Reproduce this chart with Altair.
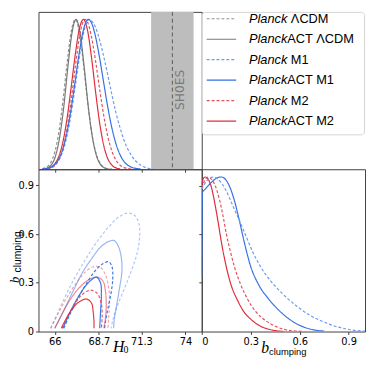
import altair as alt
import pandas as pd

# ---------------- data ----------------
# 1D marginal of H0, peak-normalised
h0_lcdm_planck = [65.25, 65.5, 65.75, 66.0, 66.25, 66.5, 66.75, 67.0, 67.25, 67.5, 67.75, 68.0, 68.25, 68.5, 68.75, 69.0, 69.25, 69.5]
p_lcdm_planck = [0.004, 0.014, 0.044, 0.115, 0.249, 0.458, 0.707, 0.916, 1.0, 0.916, 0.707, 0.458, 0.249, 0.115, 0.044, 0.014, 0.004, 0.001]

h0_lcdm_act = [65.3, 65.55, 65.8, 66.05, 66.3, 66.55, 66.8, 67.05, 67.3, 67.55, 67.8, 68.05, 68.3, 68.55, 68.8, 69.05, 69.3]
p_lcdm_act = [0.002, 0.009, 0.031, 0.091, 0.216, 0.418, 0.681, 0.908, 1.0, 0.908, 0.681, 0.418, 0.216, 0.091, 0.031, 0.009, 0.002]

h0_m1_planck = [65.25, 65.5, 65.75, 66.0, 66.25, 66.5, 66.75, 67.0, 67.25, 67.5, 67.75, 68.1, 68.25, 68.5, 68.75, 69.0, 69.25, 69.5, 69.75, 70.0, 70.25, 70.5, 70.75, 71.0, 71.25, 71.5, 71.75, 72.0]
p_m1_planck = [0.001, 0.004, 0.011, 0.027, 0.06, 0.122, 0.225, 0.37, 0.553, 0.744, 0.904, 1.0, 0.99, 0.945, 0.86, 0.75, 0.625, 0.495, 0.375, 0.275, 0.19, 0.128, 0.083, 0.05, 0.028, 0.014, 0.006, 0.002]

h0_m1_act = [65.25, 65.5, 65.75, 66.0, 66.25, 66.5, 66.75, 67.0, 67.25, 67.5, 67.75, 68.05, 68.25, 68.5, 68.75, 69.0, 69.25, 69.5, 69.75, 70.0, 70.25, 70.5, 70.75, 71.0, 71.25]
p_m1_act = [0.002, 0.005, 0.013, 0.031, 0.069, 0.138, 0.249, 0.404, 0.591, 0.78, 0.929, 1.0, 0.976, 0.882, 0.739, 0.573, 0.411, 0.273, 0.168, 0.096, 0.05, 0.025, 0.011, 0.005, 0.002]

h0_m2_planck = [65.25, 65.5, 65.75, 66.0, 66.25, 66.5, 66.75, 67.0, 67.25, 67.5, 67.75, 67.85, 68.0, 68.25, 68.5, 68.75, 69.0, 69.25, 69.5, 69.75, 70.0, 70.25, 70.5, 70.75]
p_m2_planck = [0.001, 0.003, 0.008, 0.025, 0.063, 0.138, 0.27, 0.458, 0.679, 0.876, 0.989, 1.0, 0.983, 0.882, 0.719, 0.531, 0.356, 0.216, 0.12, 0.06, 0.027, 0.011, 0.004, 0.001]

h0_m2_act = [65.25, 65.5, 65.75, 66.0, 66.25, 66.5, 66.75, 67.0, 67.25, 67.5, 67.75, 68.0, 68.25, 68.5, 68.75, 69.0, 69.25, 69.5, 69.75, 70.0]
p_m2_act = [0.001, 0.004, 0.013, 0.037, 0.087, 0.184, 0.339, 0.546, 0.763, 0.935, 1.0, 0.929, 0.744, 0.514, 0.306, 0.157, 0.069, 0.027, 0.009, 0.002]

# 1D marginal of b_clumping, peak-normalised
b_m1_planck = [0, 0.03, 0.07, 0.1, 0.14, 0.177, 0.2, 0.23, 0.27, 0.31, 0.36, 0.42, 0.48, 0.53, 0.6, 0.67, 0.74, 0.8, 0.88, 0.95, 1.0]
pb_m1_planck = [0.92, 0.975, 1.0, 0.985, 0.93, 0.847, 0.79, 0.72, 0.62, 0.52, 0.42, 0.33, 0.26, 0.21, 0.15, 0.1, 0.065, 0.04, 0.018, 0.006, 0.003]

b_m1_act = [0, 0.004, 0.02, 0.05, 0.08, 0.1, 0.12, 0.14, 0.17, 0.2, 0.23, 0.26, 0.3, 0.35, 0.41, 0.47, 0.53, 0.6, 0.68, 0.75]
pb_m1_act = [0.36, 0.9, 0.92, 0.955, 0.985, 0.997, 1.0, 0.99, 0.94, 0.847, 0.72, 0.58, 0.42, 0.3, 0.21, 0.14, 0.085, 0.04, 0.012, 0.003]

b_m2_planck = [0, 0.02, 0.04, 0.06, 0.08, 0.11, 0.13, 0.15, 0.175, 0.2, 0.24, 0.28, 0.33, 0.4, 0.46, 0.52, 0.58, 0.62]
pb_m2_planck = [0.93, 0.98, 1.0, 0.985, 0.95, 0.847, 0.75, 0.635, 0.52, 0.42, 0.3, 0.21, 0.13, 0.064, 0.03, 0.01, 0.003, 0.001]

b_m2_act = [0, 0.01, 0.02, 0.04, 0.06, 0.08, 0.1, 0.12, 0.15, 0.18, 0.22, 0.26, 0.3, 0.35, 0.4, 0.45, 0.5]
pb_m2_act = [0.95, 0.99, 1.0, 0.985, 0.93, 0.83, 0.71, 0.58, 0.42, 0.3, 0.2, 0.125, 0.08, 0.04, 0.018, 0.006, 0.001]

# 2D contours (H0, b_clumping): 95% (outer) and 68% (inner)
c95_m1_planck_h0 = [65.75, 66.2, 66.9, 67.5, 68.1, 68.7, 69.3, 69.9, 70.45, 70.9, 71.15, 71.2, 71.1, 70.95, 70.6, 70.2, 69.8, 69.55, 69.45]
c95_m1_planck_b = [0.02, 0.12, 0.27, 0.38, 0.48, 0.57, 0.645, 0.705, 0.73, 0.715, 0.665, 0.59, 0.51, 0.45, 0.35, 0.25, 0.15, 0.07, 0.02]
c95_m1_act_h0 = [66.0, 66.5, 67.1, 67.7, 68.3, 68.8, 69.3, 69.65, 69.95, 70.1, 70.1, 69.95, 69.8, 69.65, 69.6]
c95_m1_act_b = [0.02, 0.12, 0.245, 0.365, 0.455, 0.52, 0.555, 0.56, 0.51, 0.43, 0.36, 0.26, 0.17, 0.08, 0.02]
c68_m1_planck_h0 = [66.55, 66.9, 67.4, 67.9, 68.4, 68.9, 69.3, 69.5, 69.55, 69.45, 69.25, 69.1, 69.05]
c68_m1_planck_b = [0.02, 0.1, 0.2, 0.29, 0.365, 0.415, 0.43, 0.4, 0.33, 0.24, 0.14, 0.06, 0.02]
c68_m1_act_h0 = [66.5, 66.85, 67.3, 67.8, 68.2, 68.55, 68.8, 68.85, 68.8, 68.75]
c68_m1_act_b = [0.02, 0.1, 0.19, 0.27, 0.315, 0.335, 0.3, 0.22, 0.12, 0.02]
c95_m2_planck_h0 = [65.75, 66.2, 66.8, 67.4, 67.9, 68.4, 68.8, 69.1, 69.3, 69.35, 69.3, 69.25]
c95_m2_planck_b = [0.02, 0.11, 0.22, 0.31, 0.37, 0.4, 0.395, 0.35, 0.27, 0.18, 0.09, 0.02]
c95_m2_act_h0 = [66.0, 66.4, 66.9, 67.5, 68.1, 68.6, 68.95, 69.1, 69.15, 69.1, 69.0]
c95_m2_act_b = [0.02, 0.1, 0.19, 0.27, 0.32, 0.335, 0.31, 0.25, 0.16, 0.08, 0.02]
c68_m2_planck_h0 = [66.45, 66.8, 67.2, 67.7, 68.2, 68.6, 68.85, 68.9, 68.85]
c68_m2_planck_b = [0.02, 0.09, 0.17, 0.23, 0.255, 0.235, 0.17, 0.09, 0.02]
c68_m2_act_h0 = [66.4, 66.7, 67.0, 67.45, 67.95, 68.25, 68.35, 68.4, 68.4]
c68_m2_act_b = [0.02, 0.08, 0.13, 0.18, 0.2, 0.175, 0.12, 0.06, 0.02]

# SH0ES band
sh0es_h0 = [73.2]
sh0es_lo = [71.9]
sh0es_hi = [74.5]
sh0es_label_h0 = [73.67]
sh0es_label_p = [0.53]

# ticks
h0_ticks = [66, 68.7, 71.3, 74]
b_ticks = [0, 0.3, 0.6, 0.9]

# legend
legend_prefix = ["Planck", "Planck", "Planck", "Planck", "Planck", "Planck"]
legend_rest = ["ΛCDM", "ACT ΛCDM", "M1", "ACT M1", "M2", "ACT M2"]

# ---------------- styling ----------------
GRAY_D, GRAY_S = "#8f8f8f", "#777777"
BLUE_D, BLUE_S = "#6d9af0", "#3370e6"
RED_D, RED_S = "#e4505c", "#e02c3a"
DASH = [3, 2]
SOLID = [1, 0]
W, H_TOP, H_BOT = 166, 160, 165
LBL = "format(datum.value, '~g')"

xs_h0 = alt.Scale(domain=[65, 75], nice=False, zero=False)
ys_p = alt.Scale(domain=[0, 1.05], nice=False, zero=True)
ys_b = alt.Scale(domain=[0, 1], nice=False, zero=True)
xs_b = alt.Scale(domain=[0, 1], nice=False, zero=True)

ax_h0_ticks = alt.Axis(values=h0_ticks, labels=False, title=None, domain=False, grid=False)
ax_h0 = alt.Axis(values=h0_ticks, labelExpr=LBL, title=None, domain=False, grid=False)
ax_b = alt.Axis(values=b_ticks, labelExpr=LBL, title=None, domain=False, grid=False)
ax_p_br = alt.Axis(values=[0.315, 0.63, 0.945], labels=False, title=None, domain=False, grid=False)


def curve(xv, yv, color, dash, xscale, yscale, xaxis, yaxis, opacity=1.0, interp="monotone", width=1.2):
    df = pd.DataFrame({"x": xv, "y": yv, "i": list(range(len(xv)))})
    return alt.Chart(df).mark_line(
        color=color, strokeDash=dash, strokeWidth=width, opacity=opacity,
        interpolate=interp, clip=True
    ).encode(
        x=alt.X("x:Q", scale=xscale, axis=xaxis),
        y=alt.Y("y:Q", scale=yscale, axis=yaxis),
        order="i:Q",
    )


def label(text, x, y, size, font="DejaVu Sans", style="normal", align="left",
          baseline="alphabetic", angle=0, color="black"):
    return alt.Chart(pd.DataFrame({"t": [text]})).mark_text(
        font=font, fontSize=size, fontStyle=style, align=align,
        baseline=baseline, angle=angle, color=color
    ).encode(text="t:N", x=alt.value(x), y=alt.value(y))


# ---------------- top-left: H0 1D ----------------
band_df = pd.DataFrame({"lo": sh0es_lo, "hi": sh0es_hi, "m": sh0es_h0,
                        "lx": sh0es_label_h0, "ly": sh0es_label_p, "t": ["SH0ES"]})
band = alt.Chart(band_df).mark_rect(color="#bdbdbd").encode(
    x=alt.X("lo:Q", scale=xs_h0, axis=ax_h0_ticks), x2="hi:Q",
    y=alt.value(0), y2=alt.value(H_TOP))
band_line = alt.Chart(band_df).mark_rule(color="#5a5a5a", strokeDash=[4, 3], strokeWidth=1).encode(
    x=alt.X("m:Q", scale=xs_h0, axis=ax_h0_ticks))
band_text = alt.Chart(band_df).mark_text(angle=270, font="DejaVu Sans", fontSize=12.5,
                                         color="#7a7a7a", align="center", baseline="middle").encode(
    x=alt.X("lx:Q", scale=xs_h0, axis=ax_h0_ticks),
    y=alt.Y("ly:Q", scale=ys_p, axis=None), text="t:N")

tl_curves = [
    curve(h0_lcdm_planck, p_lcdm_planck, GRAY_D, DASH, xs_h0, ys_p, ax_h0_ticks, None),
    curve(h0_lcdm_act, p_lcdm_act, GRAY_S, SOLID, xs_h0, ys_p, ax_h0_ticks, None),
    curve(h0_m2_planck, p_m2_planck, RED_D, DASH, xs_h0, ys_p, ax_h0_ticks, None),
    curve(h0_m2_act, p_m2_act, RED_S, SOLID, xs_h0, ys_p, ax_h0_ticks, None),
    curve(h0_m1_planck, p_m1_planck, BLUE_D, DASH, xs_h0, ys_p, ax_h0_ticks, None),
    curve(h0_m1_act, p_m1_act, BLUE_S, SOLID, xs_h0, ys_p, ax_h0_ticks, None),
]
tl = alt.layer(band, band_line, band_text, *tl_curves).properties(width=W, height=H_TOP)

# ---------------- top-right: legend ----------------
row_y = [7, 27.8, 48.6, 69.4, 90.2, 111]
styles = [(GRAY_D, DASH, 1.0), (GRAY_S, SOLID, 1.2), (BLUE_D, DASH, 1.2),
          (BLUE_S, SOLID, 1.2), (RED_D, DASH, 1.2), (RED_S, SOLID, 1.2)]
box = alt.Chart(pd.DataFrame({"a": [0]})).mark_rect(
    fill="white", stroke="#d4d4d4", strokeWidth=1, cornerRadius=3
).encode(x=alt.value(0.5), x2=alt.value(165.5), y=alt.value(0.5), y2=alt.value(125))
leg_layers = [box]
for k in range(6):
    col, dsh, wd = styles[k]
    leg_layers.append(alt.Chart(pd.DataFrame({"a": [0]})).mark_rule(
        color=col, strokeDash=dsh, strokeWidth=wd
    ).encode(x=alt.value(5), x2=alt.value(35), y=alt.value(row_y[k])))
    leg_layers.append(label(legend_prefix[k], 48, row_y[k], 13, font="Liberation Sans",
                            style="italic", baseline="middle"))
    rest = legend_rest[k]
    xoff = 87 if rest.startswith("ACT") else 90.6
    leg_layers.append(label(rest, xoff, row_y[k], 13, font="Liberation Sans", baseline="middle"))
tr = alt.layer(*leg_layers).properties(width=W, height=H_TOP, view=alt.ViewBackground(stroke=None))

# ---------------- bottom-left: 2D contours ----------------
contours = [
    (c95_m1_planck_h0, c95_m1_planck_b, BLUE_D, DASH, 0.55),
    (c95_m1_act_h0, c95_m1_act_b, BLUE_S, SOLID, 0.5),
    (c95_m2_planck_h0, c95_m2_planck_b, RED_D, DASH, 0.5),
    (c95_m2_act_h0, c95_m2_act_b, RED_S, SOLID, 0.55),
    (c68_m1_planck_h0, c68_m1_planck_b, BLUE_S, DASH, 0.95),
    (c68_m1_act_h0, c68_m1_act_b, BLUE_S, SOLID, 0.95),
    (c68_m2_planck_h0, c68_m2_planck_b, RED_D, DASH, 0.95),
    (c68_m2_act_h0, c68_m2_act_b, RED_S, SOLID, 0.95),
]
bl_layers = [curve(h, b, c, d, xs_h0, ys_b, ax_h0, ax_b, opacity=o, interp="catmull-rom")
             for (h, b, c, d, o) in contours]
# invisible spacer fixing the left extent of the layout at 40 px
spacer = alt.Chart(pd.DataFrame({"a": [0]})).mark_rect(opacity=0).encode(
    x=alt.value(-40), x2=alt.value(-39), y=alt.value(0), y2=alt.value(1))
bl_layers += [
    spacer,
    label("H", 81.5, 185.5, 16, font="Liberation Serif", style="italic", align="center"),
    label("0", 86.5, 186.5, 10, font="Liberation Serif"),
    label("b", -19.5, 112.5, 13, font="Liberation Serif", style="italic", align="center", angle=270),
    label("clumping", -17.5, 105, 10.5, font="Liberation Sans", angle=270),
]
bl = alt.layer(*bl_layers).properties(width=W, height=H_BOT)

# ---------------- bottom-right: b_clumping 1D ----------------
br_layers = [
    curve(b_m2_act, pb_m2_act, RED_S, SOLID, xs_b, ys_p, ax_b, ax_p_br),
    curve(b_m2_planck, pb_m2_planck, RED_D, DASH, xs_b, ys_p, ax_b, ax_p_br),
    curve(b_m1_act, pb_m1_act, BLUE_S, SOLID, xs_b, ys_p, ax_b, ax_p_br),
    curve(b_m1_planck, pb_m1_planck, BLUE_D, DASH, xs_b, ys_p, ax_b, ax_p_br),
    label("b", 64.5, 187, 16, font="Liberation Serif", style="italic", align="center"),
    label("clumping", 68.5, 189, 9.5, font="Liberation Sans"),
]
br = alt.layer(*br_layers).properties(width=W, height=H_BOT)

chart = alt.concat(tl, tr, bl, br, columns=2, spacing=0, bounds="flush").properties(
    padding={"left": -10, "top": 0, "right": 0, "bottom": 0}
).configure_view(stroke="#404040", strokeWidth=1).configure_axis(
    labelFont="DejaVu Sans", labelFontSize=10, labelColor="black", labelPadding=2,
    tickColor="#404040", tickSize=3, tickWidth=1, domain=False, grid=False
)

chart.save("out.html", embed_options={"renderer": "svg", "actions": False})
